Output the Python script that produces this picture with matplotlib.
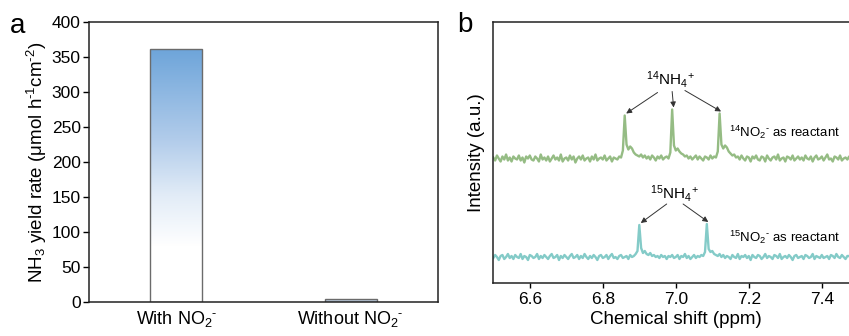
import numpy as np
import matplotlib
matplotlib.use("Agg")
import matplotlib.pyplot as plt
from matplotlib.colors import LinearSegmentedColormap

plt.rcParams['font.family'] = ['Liberation Sans', 'DejaVu Sans']
plt.rcParams['mathtext.fontset'] = 'custom'
plt.rcParams['mathtext.rm'] = 'Liberation Sans'
plt.rcParams['mathtext.it'] = 'Liberation Sans:italic'
plt.rcParams['mathtext.bf'] = 'Liberation Sans:bold'

# ---------------- data ----------------
categories = [r'With NO$_2$$^{\text{-}}$', r'Without NO$_2$$^{\text{-}}$']
yield_rate = [361, 5]
yticks_a = [0, 50, 100, 150, 200, 250, 300, 350, 400]

shift_start = 6.50
shift_step = 0.005
green_14 = [1, -2, 3, 0, -3, 2, -1, 4, -2, 1,
            -3, 2, 0, -1, 3, -2, 1, -4, 2, 0,
            3, -1, -2, 2, 0, -3, 4, -1, 1, -2,
            2, -3, 0, 3, -1, 1, -2, 4, -3, 0,
            1, -2, 3, -1, 2, -4, 0, 2, -1, 3,
            -2, 0, 1, -3, 2, -1, 4, -2, 0, 1,
            -1, 3, -2, 0, 2, -3, 1, 0, -1, 2,
            1, 8, 43, 14, 9, 12, 10, 6, 4, 3,
            2, 4, 1, 3, 0, 2, -1, 3, 1, -2,
            2, 0, 3, -1, 1, 2, 0, 6, 49, 13,
            8, 10, 7, 5, 4, 2, 3, 0, 2, -1,
            1, 3, -1, 2, 0, -2, 2, 1, -1, 3,
            0, 2, 1, 7, 45, 14, 10, 13, 11, 7,
            5, 3, 4, 1, 2, -1, 3, 0, -2, 2,
            1, -3, 2, 0, 3, -1, -2, 2, 1, -3,
            3, 0, -2, 1, 2, -1, 4, -2, 0, 1,
            -3, 2, 1, -1, 3, -2, 0, 2, -1, 1,
            -2, 3, 0, -1, 2, -3, 1, 3, -1, 0,
            2, -2, 1, 4, -1, 0, -3, 2, 1, -1,
            3, -2, 0, 1, -1, 2, -3, 1, 0, 2, -1]
cyan_15 = [-1, 2, 0, -3, 1, 2, -2, 0, 3, -1,
           1, -2, 2, 0, -1, 3, -2, 1, 0, -3,
           2, 1, -1, 0, 3, -2, 1, -1, 2, 0,
           -2, 1, 3, -1, 0, 2, -3, 1, -1, 2,
           0, -2, 1, 3, -1, 0, 2, -2, 1, -1,
           3, 0, -2, 1, -1, 2, 0, -3, 1, 2,
           -1, 0, 2, -2, 1, 3, -1, 0, -2, 1,
           2, -1, 0, 1, -2, 2, 0, 1, 3, 6,
           32, 9, 4, 6, 3, 2, 4, 1, 2, 0,
           1, -1, 2, 0, 1, -2, 1, 0, 2, -1,
           0, 2, -2, 1, 0, 3, -1, 1, -2, 0,
           2, -1, 1, 0, 2, 1, 5, 33, 8, 5,
           6, 3, 2, 1, 3, 0, 2, -1, 1, 0,
           -2, 2, 0, -1, 3, -2, 1, 0, 2, -1,
           1, -3, 2, 0, -1, 2, 1, -2, 0, 3,
           -1, 1, 0, -2, 2, 1, -1, 3, -2, 0,
           1, -1, 2, 0, -3, 1, 2, -1, 0, 1,
           -2, 2, 1, -1, 0, 3, -2, 1, 0, -1,
           2, -1, 0, 1, -2, 2, 1, -1, 3, 0,
           -1, 2, 0, -2, 1, 1, -1, 2, 0, -2, 1]
xticks_b = [6.6, 6.8, 7.0, 7.2, 7.4]
peaks_14 = [6.86, 6.99, 7.12]
peaks_15 = [6.90, 7.085]

shift = np.round(shift_start + shift_step * np.arange(len(green_14)), 4)
green_14 = np.array(green_14, float)
cyan_15 = np.array(cyan_15, float)

# ---------------- figure ----------------
fig = plt.figure(figsize=(8.49, 3.36), dpi=100)

# Panel a
axa = fig.add_axes([89 / 849, 34 / 336, 349 / 849, 280 / 336])
xpos = np.arange(len(categories))
bw = 0.30
cmap = LinearSegmentedColormap.from_list(
    'grad', [(0.0, '#ffffff'), (0.22, '#ffffff'), (0.42, '#e2ecf7'),
             (0.65, '#b0cbea'), (1.0, '#6ea5da')])
h0 = yield_rate[0]
grad = np.linspace(0, h0, 256).reshape(-1, 1)
axa.imshow(grad, extent=[xpos[0] - bw / 2, xpos[0] + bw / 2, 0, h0],
           origin='lower', aspect='auto', cmap=cmap, vmin=0, vmax=h0, zorder=1)
axa.bar(xpos[0], h0, width=bw, facecolor='none', edgecolor='#6b6b6b',
        linewidth=1.0, zorder=2)
axa.bar(xpos[1], yield_rate[1], width=bw, facecolor='#b8c6d8',
        edgecolor='#6b6b6b', linewidth=1.0, zorder=2)
axa.set_xlim(-0.5, 1.5)
axa.set_ylim(0, 400)
axa.set_yticks(yticks_a)
axa.set_xticks(xpos)
axa.set_xticklabels(categories, fontsize=13)
axa.tick_params(axis='x', length=0, pad=5)
axa.tick_params(axis='y', direction='out', length=4, width=1, labelsize=12.5, pad=2)
for s in axa.spines.values():
    s.set_linewidth(1.1)
    s.set_color('#222222')
axa.set_ylabel(r'NH$_3$ yield rate (μmol h$^{\text{-}1}$cm$^{\text{-}2}$)', fontsize=13.5, labelpad=2)
fig.text(10 / 849, 1 - 33 / 336, 'a', fontsize=20, va='baseline', ha='left')

# Panel b
axb = fig.add_axes([493.3 / 849, 53 / 336, 365 / 849, 261 / 336])
offset_14 = 98.5
axb.plot(shift, green_14 + offset_14, color='#95bc84', linewidth=1.7)
axb.plot(shift, cyan_15, color='#84cbc8', linewidth=1.7)
axb.set_xlim(6.5, 7.5)
axb.set_ylim(-26, 235)
axb.set_yticks([])
axb.set_xticks(xticks_b)
axb.set_xticklabels([f'{t:.1f}' for t in xticks_b])
axb.tick_params(axis='x', direction='out', length=3.5, width=1, labelsize=12.5, pad=3)
for s in axb.spines.values():
    s.set_linewidth(1.1)
    s.set_color('#222222')
axb.set_xlabel('Chemical shift (ppm)', fontsize=13.5, labelpad=3)
axb.set_ylabel('Intensity (a.u.)', fontsize=13.5, labelpad=6)
fig.text(457 / 849, 1 - 32 / 336, 'b', fontsize=20, va='baseline', ha='left')

arrow_kw = dict(arrowstyle='-|>', color='#333333', lw=0.7, mutation_scale=8,
                shrinkA=0, shrinkB=0)
# annotations 14N
lab14_y = offset_14 + 79
axb.text(6.985, lab14_y, r'$^{14}$NH$_4$$^{+}$', fontsize=11, ha='center', va='center')
starts14 = [(6.95, offset_14 + 66), (6.99, offset_14 + 67), (7.025, offset_14 + 68)]
tops14 = [green_14[np.argmin(np.abs(shift - p))] for p in peaks_14]
for (sx, sy), p, t in zip(starts14, peaks_14, tops14):
    axb.annotate('', xy=(p + 0.004, offset_14 + t + 2), xytext=(sx, sy),
                 arrowprops=arrow_kw)
axb.text(7.145, offset_14 + 26, r'$^{14}$NO$_2$$^{\text{-}}$ as reactant', fontsize=9.5,
         ha='left', va='center')

# annotations 15N
lab15_y = 63
axb.text(6.995, lab15_y, r'$^{15}$NH$_4$$^{+}$', fontsize=11, ha='center', va='center')
starts15 = [(6.975, 53), (7.02, 53)]
tops15 = [cyan_15[np.argmin(np.abs(shift - p))] for p in peaks_15]
for (sx, sy), p, t in zip(starts15, peaks_15, tops15):
    axb.annotate('', xy=(p + 0.004, t + 2), xytext=(sx, sy),
                 arrowprops=arrow_kw)
axb.text(7.145, 20, r'$^{15}$NO$_2$$^{\text{-}}$ as reactant', fontsize=9.5,
         ha='left', va='center')

fig.savefig('out.png', dpi=100)
